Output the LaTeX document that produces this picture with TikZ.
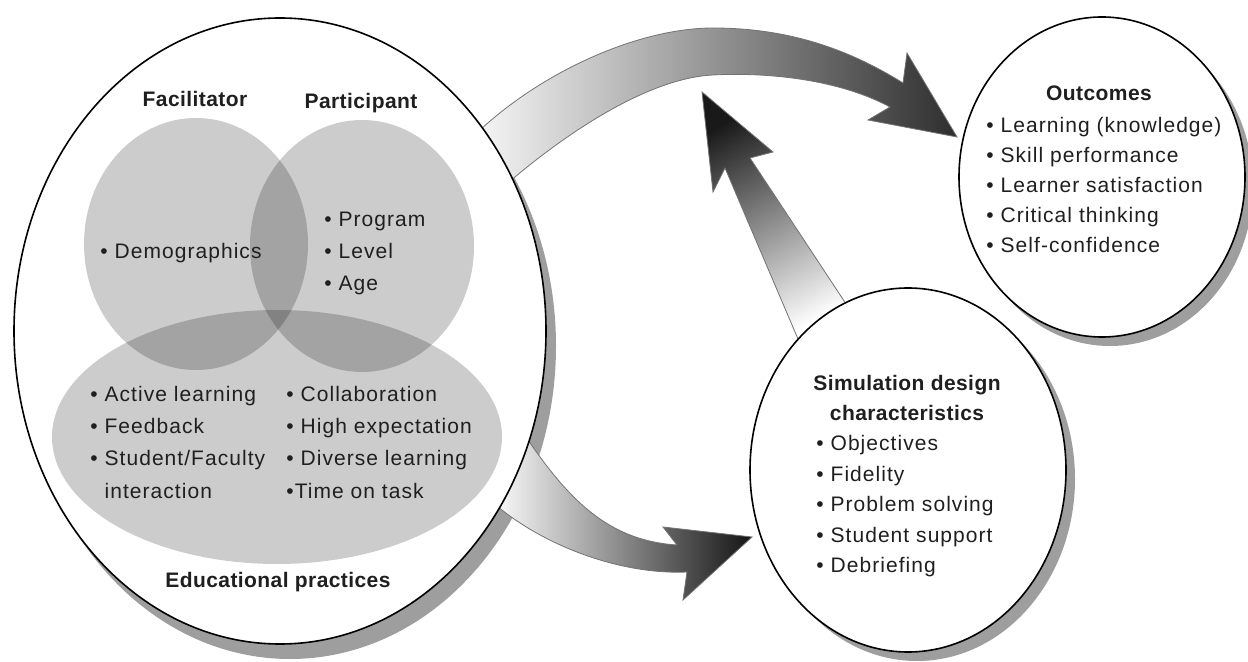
\documentclass[tikz,border=0pt]{standalone}
\usepackage{fontspec}
\setmainfont{Liberation Sans}[LetterSpace=5,BoldFeatures={LetterSpace=2}]
\usetikzlibrary{shapes.geometric}
\begin{document}
\begin{tikzpicture}[x=0.5pt,y=-0.5pt,
  shadowell/.style={ellipse,fill=black!38,draw=none,inner sep=0pt,outer sep=0pt},
  mainell/.style={ellipse,fill=white,draw=black,line width=0.8pt,inner sep=0pt,outer sep=0pt},
  vennell/.style={ellipse,fill=black,fill opacity=0.2,draw=none,inner sep=0pt,outer sep=0pt},
  txt/.style={inner sep=0pt,anchor=base west,text=black!88,font=\fontsize{10.5}{12}\selectfont},
  ttl/.style={inner sep=0pt,anchor=base,text=black!88,font=\fontsize{10.5}{12}\selectfont\bfseries},
  arrowedge/.style={draw=black!55,line width=0.4pt}
]
\useasboundingbox (0,0) rectangle (1248,662);
% shadows
\node[shadowell,minimum width=266pt,minimum height=313pt] (ctxsh) at (290,346) {};
\node[shadowell,minimum width=143pt,minimum height=160pt] (outsh) at (1110,186) {};
\node[shadowell,minimum width=158pt,minimum height=182pt] (simsh) at (917,479) {};
% top arch arrow
\shadedraw[arrowedge,left color=black!4,right color=black!82]
  (480,130) .. controls (545,70) and (640,28) .. (713,28)
  .. controls (790,28) and (850,50) .. (903,83)
  -- (907,53) -- (957,137) -- (868,120) -- (890,107)
  .. controls (840,80) and (770,72) .. (713,75)
  .. controls (650,78) and (570,130) .. (509,182) -- cycle;
% bottom arrow
\shadedraw[arrowedge,left color=white,right color=black!92]
  (510,413) .. controls (560,490) and (600,540) .. (677,545)
  -- (663,527) -- (752,537) -- (683,600) -- (687,572)
  .. controls (620,575) and (540,545) .. (490,500) -- cycle;
% upward arrow
\shadedraw[arrowedge,top color=black!90,bottom color=white,shading angle=27.6]
  (702,92) -- (773,152) -- (750,158) -- (850,310) -- (801,346)
  -- (725,168) -- (713,192) -- cycle;
% main ellipses
\node[mainell,minimum width=266pt,minimum height=313pt] (ctx) at (280,331) {};
\node[mainell,minimum width=143pt,minimum height=160pt] (out) at (1102,177) {};
\node[mainell,minimum width=158pt,minimum height=182pt] (sim) at (908,470) {};
% venn
\node[vennell,minimum width=112pt,minimum height=126pt] (fac) at (196,244) {};
\node[vennell,minimum width=112pt,minimum height=126pt] (par) at (362,246) {};
\node[vennell,minimum width=225pt,minimum height=127pt] (edu) at (277,437) {};
% texts left
\node[ttl] (tfac) at (195,107) {Facilitator};
\node[ttl] (tpar) at (361,109) {Participant};
\node[txt] (tdem) at (100,259) {• Demographics};
\node[txt] (tprog) at (324,227) {• Program};
\node[txt] (tlev) at (324,259) {• Level};
\node[txt] (tage) at (324,291) {• Age};
\node[txt] (tact) at (90,402) {• Active learning};
\node[txt] (tfee) at (90,434) {• Feedback};
\node[txt] (tstu) at (90,466) {• Student/Faculty};
\node[txt] (tint) at (90,499) {\hphantom{• }interaction};
\node[txt] (tcol) at (286,402) {• Collaboration};
\node[txt] (thig) at (286,434) {• High expectation};
\node[txt] (tdiv) at (286,466) {• Diverse learning};
\node[txt] (ttim) at (286,499) {•Time on task};
\node[ttl] (tedu) at (278,588) {Educational practices};
% outcomes
\node[ttl] (tout) at (1099,101) {Outcomes};
\node[txt] (to1) at (986,133) {• Learning (knowledge)};
\node[txt] (to2) at (986,163) {• Skill performance};
\node[txt] (to3) at (986,193) {• Learner satisfaction};
\node[txt] (to4) at (986,223) {• Critical thinking};
\node[txt] (to5) at (986,253) {• Self-confidence};
% simulation
\node[ttl] (tsim1) at (907,391) {Simulation design};
\node[ttl] (tsim2) at (907,421) {characteristics};
\node[txt] (ts1) at (816,451) {• Objectives};
\node[txt] (ts2) at (816,481) {• Fidelity};
\node[txt] (ts3) at (816,511) {• Problem solving};
\node[txt] (ts4) at (816,543) {• Student support};
\node[txt] (ts5) at (816,573) {• Debriefing};
\end{tikzpicture}
\end{document}
